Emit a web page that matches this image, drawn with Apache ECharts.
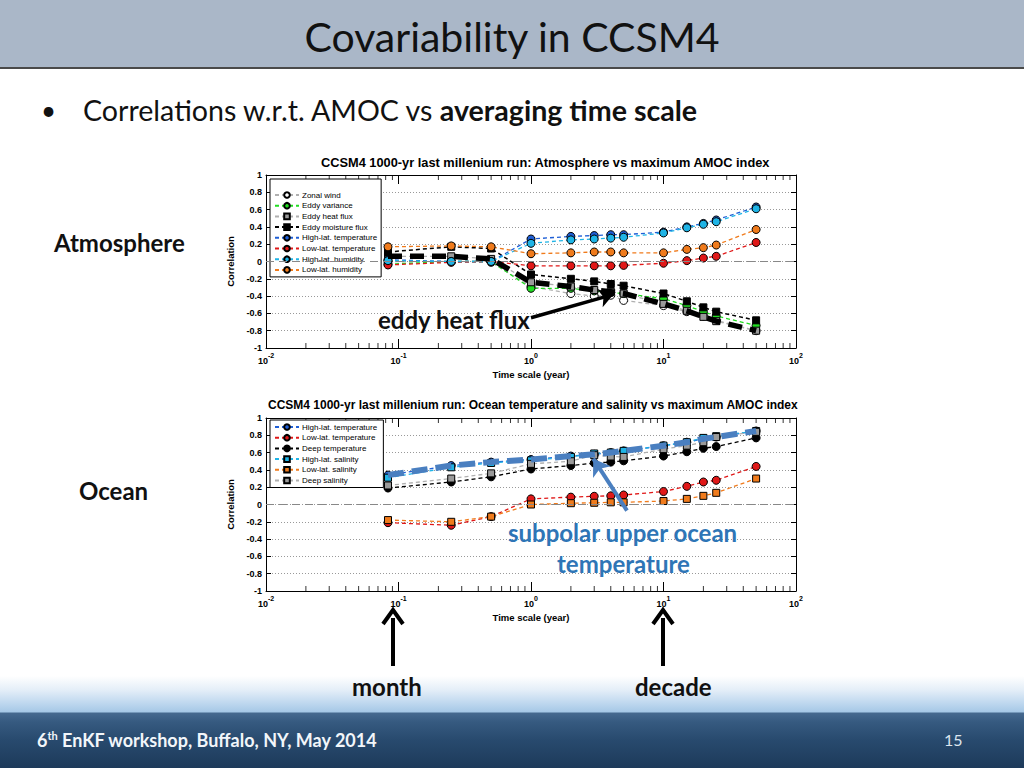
<!DOCTYPE html>
<html>
<head>
<meta charset="utf-8">
<script src="https://cdn.jsdelivr.net/npm/echarts@6/dist/echarts.min.js"></script>
<style>
  html, body { margin: 0; padding: 0; background: #fff; }
  #page { position: relative; width: 1024px; height: 768px; overflow: hidden; background: #fff; font-family: Lato, "Open Sans", sans-serif; }
  #header { position: absolute; left: 0; top: 0; width: 1024px; height: 67px; background: #aab7c8; border-bottom: 2px solid #4a4a4a; }
  #title { position: absolute; left: 0; width: 1024px; top: 13px; text-align: center; font-size: 41px; color: #111; line-height: 48px; }
  #bullet { position: absolute; left: 41px; top: 93px; font-size: 26px; color: #111; line-height: 34px; }
  #bullettext { position: absolute; left: 83px; top: 93px; font-size: 28.6px; color: #111; line-height: 34px; white-space: nowrap; }
  #footer { position: absolute; left: 0; top: 676px; width: 1024px; height: 92px;
    background: linear-gradient(to bottom, rgba(255,255,255,0) 0px, #e4eef8 14px, #bcd6ee 28px, #a6c8e6 36px, #46698f 37px, #365a80 46px, #284a6e 64px, #1d3a5a 92px); }
  .lbl { position: absolute; font-weight: bold; font-size: 24px; color: #111; white-space: nowrap; line-height: 28px; }
  #chart { position: absolute; left: 0; top: 0; width: 1024px; height: 768px; z-index: 1; }
  #overlay { position: absolute; left: 0; top: 0; width: 1024px; height: 768px; z-index: 2; pointer-events: none; }
  #foot { position: absolute; left: 37px; top: 729px; font-size: 18px; font-weight: bold; color: #f2f6fa; white-space: nowrap; line-height: 22px; }
  #foot sup { font-size: 11px; line-height: 0; }
  #pnum { position: absolute; left: 944px; top: 730px; font-size: 16px; color: #dde6ef; }
</style>
</head>
<body>
<div id="page">
  <div id="header"><div id="title">Covariability in CCSM4</div></div>
  <div id="bullet">•</div>
  <div id="bullettext">Correlations w.r.t. AMOC vs <b>averaging time scale</b></div>
  <div id="footer"></div>
  <div id="chart"></div>
  <div id="overlay">
    <div class="lbl" style="left:54px; top:229px;">Atmosphere</div>
    <div class="lbl" style="left:79px; top:477px;">Ocean</div>
    <div class="lbl" style="left:378px; top:306px;">eddy heat flux</div>
    <div class="lbl" style="left:508px; top:519px; color:#2e75b6;">subpolar upper ocean</div>
    <div class="lbl" style="left:557px; top:550px; color:#2e75b6;">temperature</div>
    <div class="lbl" style="left:352px; top:673px;">month</div>
    <div class="lbl" style="left:635px; top:673px;">decade</div>
    <svg width="1024" height="768" style="position:absolute;left:0;top:0;">
      <line x1="393" y1="666" x2="393" y2="618" stroke="#000" stroke-width="4"/>
      <polyline points="383,624 393,610 403,624" fill="none" stroke="#000" stroke-width="4"/>
      <line x1="663" y1="666" x2="663" y2="618" stroke="#000" stroke-width="4"/>
      <polyline points="653,624 663,610 673,624" fill="none" stroke="#000" stroke-width="4"/>
    </svg>
    <div id="foot">6<sup>th</sup> EnKF workshop, Buffalo, NY, May 2014</div>
    <div id="pnum">15</div>
  </div>
</div>
<script>
// ---- Data ----
const timeScales = [0.0833, 0.25, 0.5, 1, 2, 3, 4, 5, 10, 15, 20, 25, 50];

// Atmosphere
const zonalWind        = [0.00, 0.00, -0.01, -0.29, -0.37, -0.40, -0.39, -0.45, -0.51, -0.58, -0.63, -0.68, -0.80];
const eddyVariance     = [-0.03, 0.00, 0.00, -0.31, -0.31, -0.34, -0.36, -0.37, -0.43, -0.51, -0.58, -0.63, -0.74];
const eddyHeatFlux     = [0.06, 0.06, 0.03, -0.24, -0.29, -0.33, -0.35, -0.37, -0.49, -0.57, -0.64, -0.69, -0.80];
const eddyMoistureFlux = [0.11, 0.17, 0.15, -0.15, -0.20, -0.23, -0.26, -0.28, -0.37, -0.46, -0.53, -0.58, -0.68];
const highLatTempAtm   = [0.02, 0.00, 0.00, 0.26, 0.29, 0.30, 0.31, 0.31, 0.34, 0.40, 0.44, 0.48, 0.63];
const lowLatTempAtm    = [-0.04, -0.01, 0.00, -0.05, -0.05, -0.05, -0.05, -0.045, -0.02, 0.01, 0.04, 0.06, 0.22];
const highLatHumidity  = [0.01, 0.00, 0.00, 0.21, 0.25, 0.26, 0.27, 0.28, 0.33, 0.39, 0.43, 0.46, 0.61];
const lowLatHumidity   = [0.17, 0.18, 0.17, 0.09, 0.10, 0.11, 0.11, 0.10, 0.10, 0.14, 0.16, 0.19, 0.37];

// Ocean
const highLatTempOcn   = [0.34, 0.45, 0.49, 0.52, 0.56, 0.58, 0.60, 0.62, 0.68, 0.72, 0.76, 0.78, 0.85];
const lowLatTempOcn    = [-0.21, -0.24, -0.14, 0.065, 0.085, 0.095, 0.10, 0.11, 0.15, 0.21, 0.26, 0.28, 0.44];
const deepTemp         = [0.19, 0.26, 0.32, 0.41, 0.45, 0.48, 0.49, 0.505, 0.56, 0.61, 0.65, 0.67, 0.77];
const highLatSalinity  = [0.31, 0.43, 0.48, 0.51, 0.55, 0.59, 0.60, 0.62, 0.68, 0.72, 0.77, 0.79, 0.85];
const lowLatSalinity   = [-0.18, -0.20, -0.14, 0.00, 0.015, 0.02, 0.025, 0.025, 0.04, 0.065, 0.10, 0.135, 0.30];
const deepSalinity     = [0.22, 0.30, 0.36, 0.47, 0.50, 0.57, 0.555, 0.55, 0.64, 0.68, 0.72, 0.78, 0.84];

// Tick values
const xMin = 0.01, xMax = 100;
const yTicks = { min: -1, max: 1, interval: 0.2 };
const decades = [0.01, 0.1, 1, 10];
const minorMultipliers = [2, 3, 4, 5, 6, 7, 8, 9];

// Annotation anchor points (data space)
const eddyArrow = [[1, -0.65], [4.2, -0.38]];
const oceanArrow = [[5.3, -0.07], [2.95, 0.53]];

const titles = [
  'CCSM4 1000-yr last millenium run: Atmosphere vs maximum AMOC index',
  'CCSM4 1000-yr last millenium run: Ocean temperature and salinity vs maximum AMOC index'
];

// ---- Build ----
const pairs = arr => timeScales.map((t, i) => [t, arr[i]]);
const minorTickValues = [];
decades.forEach(d => minorMultipliers.forEach(m => minorTickValues.push(+(d * m).toPrecision(3))));

const FONT = '"Liberation Sans", Arial, sans-serif';
const grids = [
  { left: 266, width: 530, top: 175, height: 173 },
  { left: 266, width: 530, top: 418, height: 173 }
];

function lineSeries(name, data, color, fill, symbol, gi, extra) {
  return Object.assign({
    name, type: 'line', xAxisIndex: gi * 2, yAxisIndex: gi * 2,
    data: pairs(data),
    symbol, symbolSize: symbol === 'rect' ? 7 : 8,
    itemStyle: { color: fill, borderColor: '#000', borderWidth: 1 },
    lineStyle: { color, width: 1.3, type: [4, 3] },
    z: 3, animation: false
  }, extra || {});
}

const xAxes = [], yAxes = [];
grids.forEach((g, gi) => {
  xAxes.push({
    type: 'log', logBase: 10, min: xMin, max: xMax, gridIndex: gi, position: 'bottom',
    axisLine: { onZero: false, lineStyle: { color: '#000', width: 1 } },
    axisTick: { inside: true, length: 9, lineStyle: { color: '#000' } },
    splitLine: { show: false },
    axisLabel: {
      margin: 4,
      formatter: v => '{b|10}{s|' + Math.round(Math.log10(v)) + '}',
      rich: {
        b: { fontFamily: FONT, fontWeight: 'bold', fontSize: 9, color: '#000', verticalAlign: 'bottom', lineHeight: 13 },
        s: { fontFamily: FONT, fontWeight: 'bold', fontSize: 7, color: '#000', verticalAlign: 'top', lineHeight: 13 }
      }
    },
    name: 'Time scale (year)', nameLocation: 'middle', nameGap: 21,
    nameTextStyle: { fontFamily: FONT, fontWeight: 'bold', fontSize: 9.5, color: '#000' }
  });
  xAxes.push({
    type: 'log', logBase: 10, min: xMin, max: xMax, gridIndex: gi, position: 'top',
    axisLine: { onZero: false, lineStyle: { color: '#000', width: 1 } },
    axisTick: { inside: true, length: 9, lineStyle: { color: '#000' } },
    axisLabel: { show: false }, splitLine: { show: false }
  });
  yAxes.push({
    type: 'value', min: yTicks.min, max: yTicks.max, interval: yTicks.interval, gridIndex: gi, position: 'left',
    axisLine: { show: true, onZero: false, lineStyle: { color: '#000', width: 1 } },
    axisTick: { show: true, inside: true, length: 5, lineStyle: { color: '#000' } },
    splitLine: { show: true, lineStyle: { color: '#999', type: [1, 2], width: 1 } },
    axisLabel: { margin: 4, fontFamily: FONT, fontWeight: 'bold', fontSize: 9, color: '#000',
      formatter: v => String(Math.round(v * 10) / 10) },
    name: 'Correlation', nameLocation: 'middle', nameGap: 15, nameRotate: 90,
    nameTextStyle: { fontFamily: FONT, fontWeight: 'bold', fontSize: 9.5, color: '#000' }
  });
  yAxes.push({
    type: 'value', min: yTicks.min, max: yTicks.max, interval: yTicks.interval, gridIndex: gi, position: 'right',
    axisLine: { show: true, onZero: false, lineStyle: { color: '#000', width: 1 } },
    axisTick: { show: true, inside: true, length: 5, lineStyle: { color: '#000' } },
    splitLine: { show: false }, axisLabel: { show: false }
  });
});

function minorTickSeries(gi) {
  const base = { type: 'scatter', xAxisIndex: gi * 2, yAxisIndex: gi * 2, symbol: 'rect', symbolSize: [1, 5],
    itemStyle: { color: '#000' }, silent: true, animation: false, z: 2 };
  return [
    Object.assign({}, base, { data: minorTickValues.map(v => [v, yTicks.min]), symbolOffset: [0, -2.5],
      markLine: { symbol: 'none', silent: true, animation: false, label: { show: false },
        lineStyle: { color: '#888', type: [8, 5], width: 1 }, data: [{ yAxis: 0 }] } }),
    Object.assign({}, base, { data: minorTickValues.map(v => [v, yTicks.max]), symbolOffset: [0, 2.5] })
  ];
}

const series = [].concat(
  minorTickSeries(0), minorTickSeries(1),
  [
    lineSeries('Zonal wind', zonalWind, '#b0b0b0', '#ffffff', 'circle', 0),
    lineSeries('Eddy variance', eddyVariance, '#22dd22', '#22dd22', 'circle', 0),
    lineSeries('Eddy heat flux', eddyHeatFlux, '#b0b0b0', '#9a9a9a', 'rect', 0),
    lineSeries('Eddy moisture flux', eddyMoistureFlux, '#000000', '#000000', 'rect', 0, { lineStyle: { color: '#000', width: 1.5, type: [4, 3] } }),
    lineSeries('High-lat. temperature', highLatTempAtm, '#1f5fd6', '#1f5fd6', 'circle', 0),
    lineSeries('Low-lat. temperature', lowLatTempAtm, '#e01818', '#e01818', 'circle', 0),
    lineSeries('High-lat. humidity', highLatHumidity, '#1fb4e6', '#1fb4e6', 'circle', 0),
    lineSeries('Low-lat. humidity', lowLatHumidity, '#f07b1c', '#f07b1c', 'circle', 0),
    {
      name: 'eddy heat flux highlight', type: 'line', xAxisIndex: 0, yAxisIndex: 0,
      data: pairs(eddyHeatFlux), symbol: 'none', z: 5, animation: false, clip: false,
      lineStyle: { color: '#000', width: 5.5, type: [14, 8] },
      markLine: { symbol: ['none', 'arrow'], symbolSize: 14, silent: true, animation: false, label: { show: false },
        lineStyle: { color: '#000', width: 3.5, type: 'solid' },
        data: [[{ coord: eddyArrow[0] }, { coord: eddyArrow[1] }]] }
    },
    lineSeries('High-lat. temperature ', highLatTempOcn, '#1f5fd6', '#1f5fd6', 'circle', 1),
    lineSeries('Low-lat. temperature ', lowLatTempOcn, '#e01818', '#e01818', 'circle', 1),
    lineSeries('Deep temperature', deepTemp, '#000000', '#000000', 'circle', 1),
    lineSeries('High-lat. salinity', highLatSalinity, '#1fb4e6', '#1fb4e6', 'rect', 1),
    lineSeries('Low-lat. salinity', lowLatSalinity, '#f07b1c', '#f07b1c', 'rect', 1),
    lineSeries('Deep salinity', deepSalinity, '#b0b0b0', '#9a9a9a', 'rect', 1),
    {
      name: 'ocean highlight', type: 'line', xAxisIndex: 2, yAxisIndex: 2,
      data: pairs(highLatTempOcn), symbol: 'none', z: 5, animation: false, clip: false,
      lineStyle: { color: '#4a7fc0', width: 6, type: [16, 8] },
      markLine: { symbol: ['none', 'arrow'], symbolSize: 16, silent: true, animation: false, label: { show: false },
        lineStyle: { color: '#4a7fc0', width: 4, type: 'solid' },
        data: [[{ coord: oceanArrow[0] }, { coord: oceanArrow[1] }]] }
    }
  ]
);

const legendBase = {
  orient: 'vertical', itemWidth: 24, itemHeight: 7, itemGap: 2.7,
  backgroundColor: '#fff', borderColor: '#000', borderWidth: 1, borderRadius: 0,
  selectedMode: false,
  textStyle: { fontFamily: FONT, fontSize: 8, color: '#000', padding: [0, 0, 0, -2] }
};

const option = {
  animation: false,
  title: [
    { text: titles[0], left: 321, top: 156, padding: 0, textStyle: { fontFamily: FONT, fontWeight: 'bold', fontSize: 12.8, color: '#000' } },
    { text: titles[1], left: 268, top: 399, padding: 0, textStyle: { fontFamily: FONT, fontWeight: 'bold', fontSize: 12, color: '#000' } }
  ],
  legend: [
    Object.assign({}, legendBase, { left: 270, top: 179, padding: [12, 4, 3, 4], data: ['Zonal wind', 'Eddy variance', 'Eddy heat flux', 'Eddy moisture flux', 'High-lat. temperature', 'Low-lat. temperature', 'High-lat. humidity', 'Low-lat. humidity'] }),
    Object.assign({}, legendBase, { left: 270, top: 420, padding: [3, 4, 3, 4], data: ['High-lat. temperature ', 'Low-lat. temperature ', 'Deep temperature', 'High-lat. salinity', 'Low-lat. salinity', 'Deep salinity'] })
  ],
  grid: grids,
  xAxis: xAxes,
  yAxis: yAxes,
  series
};

const chart = echarts.init(document.getElementById('chart'), null, { renderer: 'svg' });
chart.setOption(option);
</script>
</body>
</html>
